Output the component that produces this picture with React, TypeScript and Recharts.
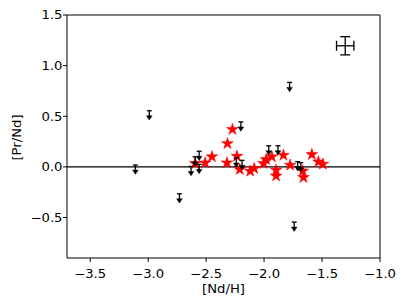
import React from 'react';
import { ScatterChart, Scatter, XAxis, YAxis, ReferenceLine, ErrorBar } from 'recharts';

const limitX = [-3.11, -2.99, -2.73, -2.63, -2.595, -2.56, -2.56, -2.2, -2.24, -2.19, -1.96, -1.88, -1.78, -1.71, -1.683, -1.74];
const limitY = [-0.026, 0.51, -0.31, -0.04, 0.055, 0.11, -0.02, 0.4, 0.043, 0.02, 0.164, 0.164, 0.79, 0.007, -0.003, -0.59];

const starX = [-2.594, -2.508, -2.45, -2.316, -2.273, -2.32, -2.234, -2.21, -2.12, -2.085, -2.005, -1.982, -1.933, -1.896, -1.896, -1.833, -1.775, -1.666, -1.66, -1.588, -1.531, -1.493];
const starY = [0.033, 0.04, 0.1, 0.23, 0.37, 0.04, 0.105, -0.026, -0.042, -0.016, 0.033, 0.073, 0.1, -0.032, -0.09, 0.115, 0.017, -0.04, -0.105, 0.122, 0.05, 0.027];

const errX = [-1.3];
const errY = [1.196];
const errDX = [0.075];
const errDY = [0.09];

const xTicks = [-3.5, -3.0, -2.5, -2.0, -1.5, -1.0];
const yTicks = [-0.5, 0.0, 0.5, 1.0, 1.5];

const limits = limitX.map((x, i) => ({ x, y: limitY[i] }));
const stars = starX.map((x, i) => ({ x, y: starY[i] }));
const errs = errX.map((x, i) => ({ x, y: errY[i], ex: errDX[i], ey: errDY[i] }));

const FONT = 'DejaVu Sans';
const FS = 12;
const SX = 1.1;
const fmt = (v: number) => (v < 0 ? '\u2212' : '') + Math.abs(v).toFixed(1);

const XTick = (props: any) => {
  const { x, y, payload } = props;
  return (
    <text transform={`translate(${x},${y + 13.5}) scale(${SX},1)`} textAnchor="middle" fontFamily={FONT} fontSize={FS} fill="#000">
      {fmt(payload.value)}
    </text>
  );
};

const YTick = (props: any) => {
  const { x, y, payload } = props;
  return (
    <text transform={`translate(${x - 0.5},${y + 4.3}) scale(${SX},1)`} textAnchor="end" fontFamily={FONT} fontSize={FS} fill="#000">
      {fmt(payload.value)}
    </text>
  );
};

const StarShape = (props: any) => {
  const { cx, cy } = props;
  if (cx == null || cy == null) return null;
  const R = 6.2;
  const r = R * 0.382;
  const pts: string[] = [];
  for (let k = 0; k < 10; k++) {
    const ang = -Math.PI / 2 + (k * Math.PI) / 5;
    const rad = k % 2 === 0 ? R : r;
    pts.push(`${cx + rad * Math.cos(ang)},${cy + rad * Math.sin(ang)}`);
  }
  return <polygon points={pts.join(' ')} fill="#ff0000" stroke="#ff0000" strokeWidth={0.5} />;
};

const LimitShape = (props: any) => {
  const { cx, cy } = props;
  if (cx == null || cy == null) return null;
  return (
    <g>
      <line x1={cx - 2.5} x2={cx + 2.5} y1={cy - 4.5} y2={cy - 4.5} stroke="#000" strokeWidth={1.3} />
      <line x1={cx} x2={cx} y1={cy - 4.5} y2={cy + 1} stroke="#000" strokeWidth={1.3} />
      <polygon points={`${cx - 2.8},${cy + 0.5} ${cx + 2.8},${cy + 0.5} ${cx},${cy + 4.8}`} fill="#000" stroke="#000" strokeWidth={0.5} />
    </g>
  );
};

const NoShape = () => <g />;

export default function App() {
  return (
    <div style={{ position: 'absolute', left: 0, top: 0 }}>
      <ScatterChart width={407} height={305} margin={{ top: 15, right: 27, bottom: 0, left: 0 }}>
        <XAxis
          type="number"
          dataKey="x"
          domain={[-3.7, -1.0]}
          allowDataOverflow
          ticks={xTicks}
          height={47}
          tickSize={4}
          stroke="#000"
          tick={<XTick />}
          tickLine={{ stroke: '#000' }}
          axisLine={{ stroke: '#000' }}
          label={{
            content: () => (
              <text transform={`translate(223.5,293) scale(${SX},1)`} textAnchor="middle" fontFamily={FONT} fontSize={FS} fill="#000">[Nd/H]</text>
            ),
          }}
        />
        <YAxis
          type="number"
          dataKey="y"
          domain={[-0.9, 1.5]}
          allowDataOverflow
          ticks={yTicks}
          width={67}
          tickSize={4}
          tickMargin={0}
          stroke="#000"
          tick={<YTick />}
          tickLine={{ stroke: '#000' }}
          axisLine={{ stroke: '#000' }}
          label={{
            content: () => (
              <text transform={`translate(21,137.5) rotate(-90) scale(${SX},1)`} textAnchor="middle" fontFamily={FONT} fontSize={FS} fill="#000">[Pr/Nd]</text>
            ),
          }}
        />
        <ReferenceLine y={1.5} stroke="#000" strokeWidth={1} />
        <ReferenceLine x={-1.0} stroke="#000" strokeWidth={1} />
        <Scatter data={stars} shape={StarShape} isAnimationActive={false} />
        <ReferenceLine y={0} stroke="#000" strokeWidth={1.3} />
        <Scatter data={limits} shape={LimitShape} isAnimationActive={false} />
        <Scatter data={errs} shape={NoShape} isAnimationActive={false}>
          <ErrorBar dataKey="ex" direction="x" width={5} stroke="#000" strokeWidth={1.3} />
          <ErrorBar dataKey="ey" direction="y" width={5} stroke="#000" strokeWidth={1.3} />
        </Scatter>
      </ScatterChart>
    </div>
  );
}
